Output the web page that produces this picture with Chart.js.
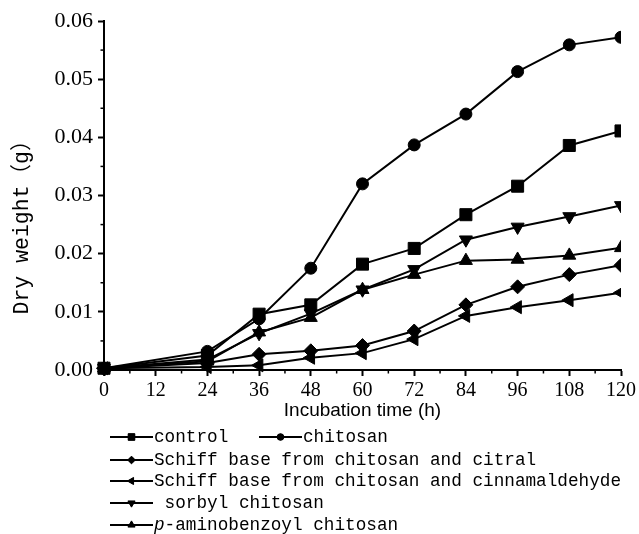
<!DOCTYPE html>
<html>
<head>
<meta charset="utf-8">
<script src="https://cdn.jsdelivr.net/npm/chart.js@4/dist/chart.umd.min.js"></script>
<style>
  html, body { margin: 0; padding: 0; background: #fff; }
  #wrap { width: 639px; height: 534px; }
</style>
</head>
<body>
<div id="wrap"><canvas id="chart" width="639" height="534"></canvas></div>
<script>
"use strict"

// incubation time (h) and dry weight (g)
const hours = [0, 24, 36, 48, 60, 72, 84, 96, 108, 120];
const control = [0.0003, 0.0025, 0.0096, 0.0112, 0.0182, 0.0209, 0.0267, 0.0316, 0.0386, 0.0411];
const chitosan = [0.0003, 0.0032, 0.0088, 0.0175, 0.0320, 0.0387, 0.0440, 0.0513, 0.0559, 0.0572];
const schiffCitral = [0.0003, 0.0012, 0.0027, 0.0033, 0.0042, 0.0067, 0.0112, 0.0143, 0.0164, 0.0180];
const schiffCinnam = [0.0003, 0.0005, 0.0008, 0.0021, 0.0029, 0.0053, 0.0093, 0.0108, 0.0120, 0.0133];
const sorbyl = [0.0003, 0.0018, 0.0063, 0.0097, 0.0138, 0.0173, 0.0224, 0.0246, 0.0264, 0.0283];
const aminobenzoyl = [0.0003, 0.0015, 0.0065, 0.0090, 0.0138, 0.0164, 0.0188, 0.0190, 0.0197, 0.0210];

const xTicks = [0, 12, 24, 36, 48, 60, 72, 84, 96, 108, 120];
const yTicks = [0, 0.01, 0.02, 0.03, 0.04, 0.05, 0.06];

const names = ['control', 'chitosan', 'Schiff base from chitosan and citral',
  'Schiff base from chitosan and cinnamaldehyde', ' sorbyl chitosan', 'p-aminobenzoyl chitosan'];

// marker looks
const styles = [
  { pointStyle: 'rect', pointRadius: 8.5, rotation: 0 },
  { pointStyle: 'circle', pointRadius: 6, rotation: 0 },
  { pointStyle: 'rectRot', pointRadius: 7, rotation: 0 },
  { pointStyle: 'triangle', pointRadius: 7.5, rotation: -90 },
  { pointStyle: 'triangle', pointRadius: 7.5, rotation: 180 },
  { pointStyle: 'triangle', pointRadius: 7.5, rotation: 0 },
];

const allSeries = [control, chitosan, schiffCitral, schiffCinnam, sorbyl, aminobenzoyl];

const datasets = allSeries.map((vals, i) => ({
  label: names[i],
  data: vals.map((v, j) => ({ x: hours[j], y: v })),
  borderColor: '#000',
  backgroundColor: '#000',
  borderWidth: 2,
  pointStyle: styles[i].pointStyle,
  pointRadius: styles[i].pointRadius,
  pointRotation: styles[i].rotation,
  pointBorderWidth: 1,
  tension: 0,
  clip: { left: 10, top: 10, right: 0, bottom: 10 },
}));

const LEGEND_FONT = "17.7px 'Liberation Mono', monospace";

const extras = {
  id: 'extras',
  afterDraw(chart) {
    const { ctx, scales } = chart;
    const xs = scales.x, ys = scales.y;
    ctx.save();
    ctx.strokeStyle = '#000';
    ctx.lineWidth = 1.5;
    // minor ticks
    for (let h = 6; h < 120; h += 12) {
      const px = xs.getPixelForValue(h);
      ctx.beginPath();
      ctx.moveTo(px, ys.bottom);
      ctx.lineTo(px, ys.bottom + 3.5);
      ctx.stroke();
    }
    for (let v = 0.005; v < 0.06; v += 0.01) {
      const py = ys.getPixelForValue(v);
      ctx.beginPath();
      ctx.moveTo(xs.left, py);
      ctx.lineTo(xs.left - 3.5, py);
      ctx.stroke();
    }

    // y title
    ctx.fillStyle = '#000';
    ctx.font = "21.5px 'Liberation Mono', 'Noto Sans CJK SC', monospace";
    ctx.textAlign = 'center';
    ctx.textBaseline = 'middle';
    ctx.translate(22, 222);
    ctx.rotate(-Math.PI / 2);
    ctx.fillText('Dry weight（g）', 0, 0);
    ctx.setTransform(1, 0, 0, 1, 0, 0);

    // legend
    const rows = [437, 460, 481, 503, 525];
    const items = [
      { ds: 0, x: 110, y: rows[0] },
      { ds: 1, x: 259, y: rows[0] },
      { ds: 2, x: 110, y: rows[1] },
      { ds: 3, x: 110, y: rows[2] },
      { ds: 4, x: 110, y: rows[3] },
      { ds: 5, x: 110, y: rows[4] },
    ];
    ctx.font = LEGEND_FONT;
    ctx.textAlign = 'left';
    ctx.textBaseline = 'middle';
    items.forEach(it => {
      const st = styles[it.ds];
      ctx.lineWidth = 2;
      ctx.beginPath();
      ctx.moveTo(it.x, it.y);
      ctx.lineTo(it.x + 43, it.y);
      ctx.stroke();
      ctx.lineWidth = 1;
      Chart.helpers.drawPoint(ctx, {
        pointStyle: st.pointStyle,
        rotation: st.rotation,
        radius: st.pointRadius * 0.55,
        borderWidth: 1,
      }, it.x + 21.5, it.y);
      ctx.fill();
      const label = names[it.ds];
      let tx = it.x + 44;
      if (label.startsWith('p-')) {
        ctx.font = "italic " + LEGEND_FONT;
        ctx.fillText('p', tx, it.y);
        tx += ctx.measureText('p').width;
        ctx.font = LEGEND_FONT;
        ctx.fillText(label.slice(1), tx, it.y);
      } else {
        ctx.fillText(label, tx, it.y);
      }
    });
    ctx.restore();
  }
};

new Chart(document.getElementById('chart'), {
  type: 'line',
  data: { datasets },
  options: {
    responsive: false,
    animation: false,
    layout: { padding: { top: 21, right: 18, bottom: 112, left: 0 } },
    plugins: {
      legend: { display: false },
      tooltip: { enabled: false },
    },
    scales: {
      x: {
        type: 'linear',
        min: 0,
        max: 120,
        afterBuildTicks: s => { s.ticks = xTicks.map(v => ({ value: v })); },
        afterFit: s => { s.height = 52; },
        ticks: {
          color: '#000',
          padding: 3,
          maxRotation: 0,
          font: { family: "'Liberation Serif', serif", size: 20 },
          callback: v => String(v),
        },
        grid: { drawOnChartArea: false, tickLength: 6, tickWidth: 2, tickColor: '#000' },
        border: { display: true, color: '#000', width: 2 },
        title: {
          display: true,
          text: 'Incubation time (h)',
          color: '#000',
          padding: 0,
          font: { family: "'Liberation Sans', sans-serif", size: 19 },
        },
      },
      y: {
        min: 0,
        max: 0.06,
        afterBuildTicks: s => { s.ticks = yTicks.map(v => ({ value: v })); },
        afterFit: s => { s.width = 104; },
        ticks: {
          color: '#000',
          padding: 5,
          font: { family: "'Liberation Serif', serif", size: 22 },
          callback: v => v.toFixed(2),
        },
        grid: { drawOnChartArea: false, tickLength: 6, tickWidth: 2, tickColor: '#000' },
        border: { display: true, color: '#000', width: 2 },
      },
    },
  },
  plugins: [extras],
});
</script>
</body>
</html>
